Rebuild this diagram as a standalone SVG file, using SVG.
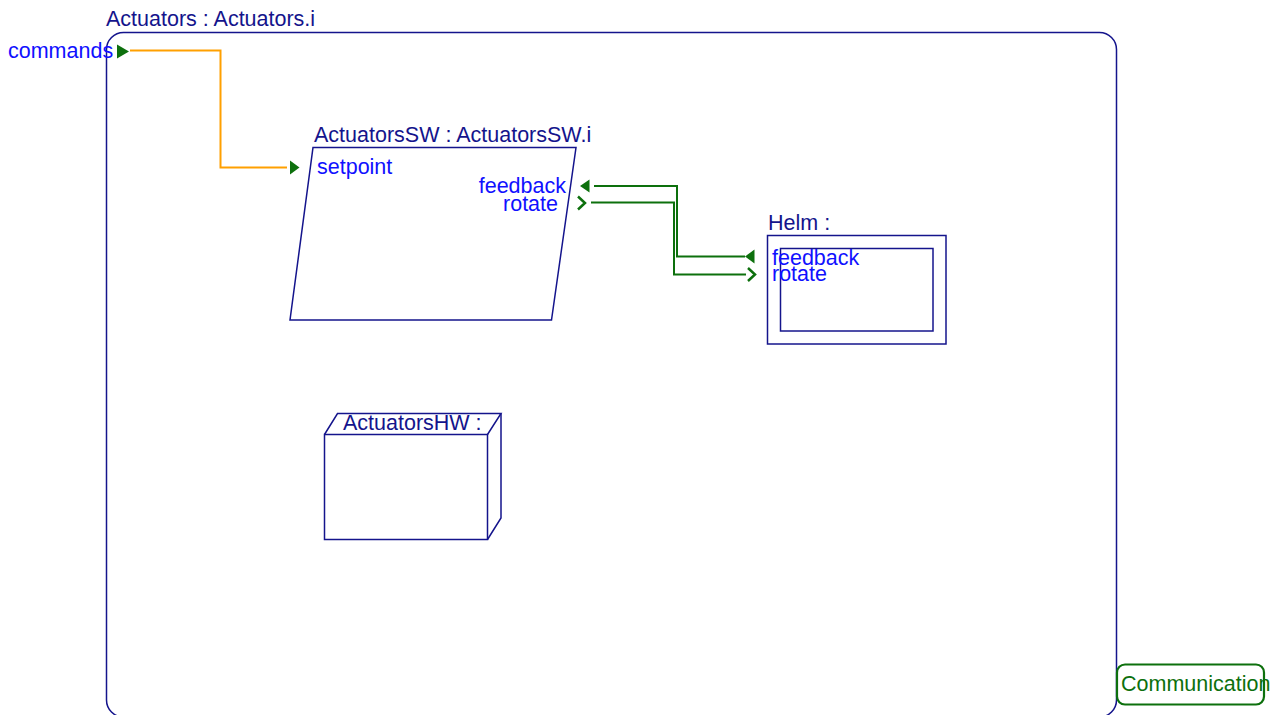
<svg xmlns="http://www.w3.org/2000/svg" width="1275" height="715" viewBox="0 0 1275 715">
  <style>
    .title { font-family: "Liberation Sans", Arial, sans-serif; font-size: 21.5px; fill: #14148c; }
    .port { font-family: "Liberation Sans", Arial, sans-serif; font-size: 21.5px; fill: #1010ff; }
    .shape { fill: none; stroke: #14148c; stroke-width: 1.5; }
    .flow-data { fill: none; stroke: #ffa000; stroke-width: 2; }
    .flow-ctl { fill: none; stroke: #0d700d; stroke-width: 2; }
    .in-port { fill: #0d700d; stroke: none; }
    .out-port { fill: none; stroke: #0d700d; stroke-width: 2.5; }
  </style>

  <!-- enclosing system -->
  <g id="Actuators">
    <rect class="shape" x="106.5" y="32.5" width="1010" height="684.5" rx="17"/>
    <text class="title" x="106" y="26">Actuators : Actuators.i</text>
    <text class="port" x="8" y="58">commands</text>
    <polygon class="in-port" points="117,44.5 129,51.5 117,58.5"/>
  </g>

  <!-- software process -->
  <g id="ActuatorsSW">
    <polygon class="shape" points="313,147.5 576,147.5 551.5,320 290,320"/>
    <text class="title" x="314" y="142">ActuatorsSW : ActuatorsSW.i</text>
    <text class="port" x="317" y="174">setpoint</text>
    <text class="port" x="566" y="193" text-anchor="end">feedback</text>
    <text class="port" x="558" y="211" text-anchor="end">rotate</text>
    <polygon class="in-port" points="290,160.5 299.5,167.5 290,174.5"/>
    <polygon class="in-port" points="589.5,179.5 580,186 589.5,192.5"/>
    <polyline class="out-port" points="578,196.5 585,203 578,209.5"/>
  </g>

  <!-- helm device -->
  <g id="Helm">
    <rect class="shape" x="767.5" y="235.5" width="178.5" height="108.5"/>
    <rect class="shape" x="780.5" y="248.5" width="152.5" height="82.5"/>
    <text class="title" x="768" y="230">Helm :</text>
    <text class="port" x="772" y="265">feedback</text>
    <text class="port" x="772" y="281">rotate</text>
    <polygon class="in-port" points="754.5,249.5 745,256.5 754.5,263.5"/>
    <polyline class="out-port" points="748,268 755,274.5 748,281"/>
  </g>

  <!-- hardware node -->
  <g id="ActuatorsHW">
    <rect class="shape" x="324.5" y="434.5" width="163" height="105"/>
    <polyline class="shape" points="324.5,434.5 337.5,413.5 501,413.5 487.5,434.5"/>
    <polyline class="shape" points="501,413.5 501,518 487.5,539.5"/>
    <text class="title" x="343" y="430">ActuatorsHW :</text>
  </g>

  <!-- bus -->
  <g id="Communication">
    <rect x="1117" y="664.5" width="147" height="40" rx="8" fill="none" stroke="#0d700d" stroke-width="2.2"/>
    <text x="1121" y="691" font-family="Liberation Sans, Arial, sans-serif" font-size="21.5" fill="#0d700d">Communication</text>
  </g>

  <!-- connections -->
  <g id="connectors">
    <polyline class="flow-data" points="130,50.5 220.5,50.5 220.5,167.5 287,167.5"/>
    <polyline class="flow-ctl" points="594,186 677,186 677,256.5 745,256.5"/>
    <polyline class="flow-ctl" points="591,202.5 674,202.5 674,274.5 746,274.5"/>
  </g>
</svg>
